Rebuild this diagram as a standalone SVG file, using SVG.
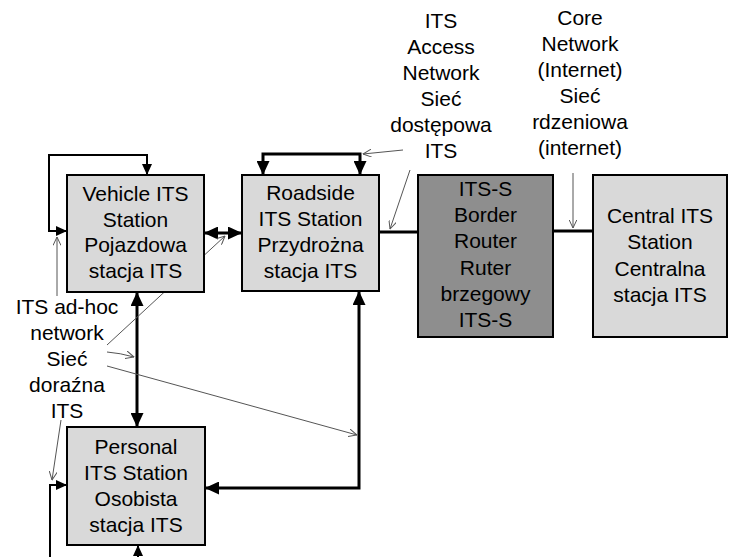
<svg xmlns="http://www.w3.org/2000/svg" width="733" height="557" viewBox="0 0 733 557">
  <style>
    .box { fill: #d9d9d9; stroke: #000; stroke-width: 2; }
    .router { fill: #8e8e8e; stroke: #000; stroke-width: 2; }
    .lbl { font-family: "Liberation Sans", Arial, sans-serif; font-size: 21px; fill: #000; text-anchor: middle; }
    .link { fill: none; stroke: #000; stroke-width: 3; }
    .link2 { fill: none; stroke: #000; stroke-width: 2; }
    .ptr { fill: none; stroke: #555; stroke-width: 1; }
  </style>
  <defs>
    <marker id="ah" viewBox="0 0 14 13" refX="14" refY="6.5" markerWidth="14" markerHeight="13" markerUnits="userSpaceOnUse" orient="auto-start-reverse">
      <path d="M0,0 L14,6.5 L0,13 z" fill="#000"/>
    </marker>
    <marker id="ahs" viewBox="0 0 11 10" refX="11" refY="5" markerWidth="11" markerHeight="10" markerUnits="userSpaceOnUse" orient="auto-start-reverse">
      <path d="M0,0 L11,5 L0,10 z" fill="#000"/>
    </marker>
    <marker id="open" viewBox="0 0 9 8" refX="8.5" refY="4" markerWidth="9" markerHeight="8" markerUnits="userSpaceOnUse" orient="auto">
      <path d="M0,0 L8.5,4 L0,8" fill="none" stroke="#555" stroke-width="1"/>
    </marker>
  </defs>

  <!-- links between stations -->
  <g id="connectors">
    <path class="link2" d="M67,231 H49 V155 H147 V175" marker-start="url(#ahs)" marker-end="url(#ahs)"/>
    <path class="link" d="M204,233 H242" marker-start="url(#ah)" marker-end="url(#ah)"/>
    <path class="link" d="M263,175 V154 H360 V175" marker-start="url(#ah)" marker-end="url(#ah)"/>
    <path class="link" d="M379,232 H418"/>
    <path class="link" d="M553,231 H593"/>
    <path class="link" d="M137,292 V427" marker-start="url(#ah)" marker-end="url(#ah)"/>
    <path class="link" d="M205,488 H359 V291" marker-start="url(#ah)" marker-end="url(#ah)"/>
    <path class="link2" d="M50,557 V485 H67" marker-end="url(#ahs)"/>
    <path class="link2" d="M138,557 V545" marker-end="url(#ahs)"/>

    <!-- label pointers -->
    <path class="ptr" d="M57,296 V237" marker-end="url(#open)"/>
    <path class="ptr" d="M107,345 L225,236" marker-end="url(#open)"/>
    <path class="ptr" d="M107,352 Q120,353 134,357" marker-end="url(#open)"/>
    <path class="ptr" d="M107,366 L357,435" marker-end="url(#open)"/>
    <path class="ptr" d="M61,420 L52,480" marker-end="url(#open)"/>
    <path class="ptr" d="M403,150 L363,154" marker-end="url(#open)"/>
    <path class="ptr" d="M410,170 L390,229" marker-end="url(#open)"/>
    <path class="ptr" d="M573,173 V228" marker-end="url(#open)"/>
  </g>

  <g id="vehicle">
    <rect class="box" x="67" y="175" width="137" height="117"/>
    <text class="lbl" x="135.5" y="201">Vehicle ITS</text>
    <text class="lbl" x="135.5" y="226.5">Station</text>
    <text class="lbl" x="135.5" y="252">Pojazdowa</text>
    <text class="lbl" x="135.5" y="278">stacja ITS</text>
  </g>

  <g id="roadside">
    <rect class="box" x="242" y="175" width="137" height="116"/>
    <text class="lbl" x="310.5" y="200">Roadside</text>
    <text class="lbl" x="310.5" y="226">ITS Station</text>
    <text class="lbl" x="310.5" y="252">Przydrożna</text>
    <text class="lbl" x="310.5" y="278">stacja ITS</text>
  </g>

  <g id="router">
    <rect class="router" x="418" y="175" width="135" height="162"/>
    <text class="lbl" x="485.5" y="196">ITS-S</text>
    <text class="lbl" x="485.5" y="222">Border</text>
    <text class="lbl" x="485.5" y="248">Router</text>
    <text class="lbl" x="485.5" y="275">Ruter</text>
    <text class="lbl" x="485.5" y="301">brzegowy</text>
    <text class="lbl" x="485.5" y="327">ITS-S</text>
  </g>

  <g id="central">
    <rect class="box" x="593" y="175" width="134" height="162"/>
    <text class="lbl" x="660" y="223">Central ITS</text>
    <text class="lbl" x="660" y="249">Station</text>
    <text class="lbl" x="660" y="276">Centralna</text>
    <text class="lbl" x="660" y="302">stacja ITS</text>
  </g>

  <g id="personal">
    <rect class="box" x="67" y="427" width="138" height="118"/>
    <text class="lbl" x="136" y="454">Personal</text>
    <text class="lbl" x="136" y="480">ITS Station</text>
    <text class="lbl" x="136" y="506">Osobista</text>
    <text class="lbl" x="136" y="532">stacja ITS</text>
  </g>

  <g id="adhoc-label">
    <text class="lbl" x="67" y="314">ITS ad-hoc</text>
    <text class="lbl" x="67" y="340">network</text>
    <text class="lbl" x="67" y="366">Sieć</text>
    <text class="lbl" x="67" y="392">doraźna</text>
    <text class="lbl" x="67" y="418">ITS</text>
  </g>

  <g id="access-label">
    <text class="lbl" x="441" y="28">ITS</text>
    <text class="lbl" x="441" y="54">Access</text>
    <text class="lbl" x="441" y="80">Network</text>
    <text class="lbl" x="441" y="106">Sieć</text>
    <text class="lbl" x="441" y="132">dostępowa</text>
    <text class="lbl" x="441" y="158">ITS</text>
  </g>

  <g id="core-label">
    <text class="lbl" x="580" y="25">Core</text>
    <text class="lbl" x="580" y="51">Network</text>
    <text class="lbl" x="580" y="77">(Internet)</text>
    <text class="lbl" x="580" y="103">Sieć</text>
    <text class="lbl" x="580" y="129">rdzeniowa</text>
    <text class="lbl" x="580" y="155">(internet)</text>
  </g>
</svg>
